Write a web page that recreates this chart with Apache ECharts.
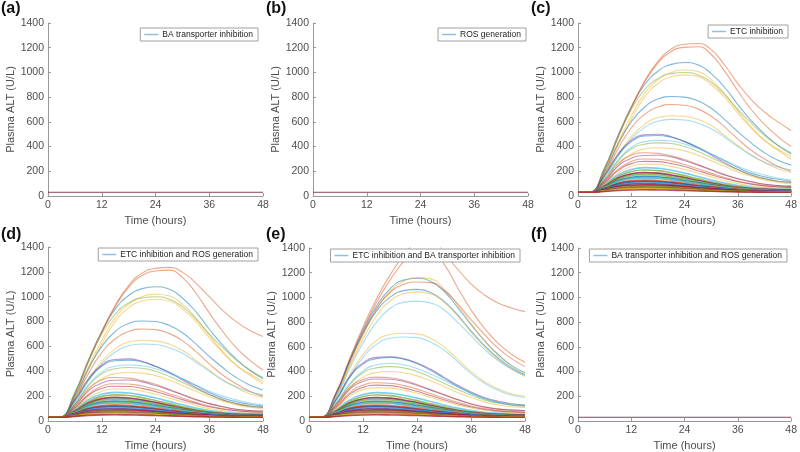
<!DOCTYPE html>
<html><head><meta charset="utf-8">
<script src="https://cdn.jsdelivr.net/npm/echarts@6/dist/echarts.min.js"></script>
<style>html,body{margin:0;padding:0;background:#fff}#c{width:800px;height:452px}</style>
</head><body><div id="c"></div>
<script>
// ---- DATA ----
const hours = [0,2.5,6,9,12,15,18,21,24,27,30,33,36,39,42,45,48];
const xTicks = [0,12,24,36,48];
const yTicks = [0,200,400,600,800,1000,1200,1400];
const panelLabels = ['a','b','c','d','e','f'];
const legendNames = ['BA transporter inhibition','ROS generation','ETC inhibition',
  'ETC inhibition and ROS generation','ETC inhibition and BA transporter inhibition',
  'BA transporter inhibition and ROS generation'];

// flat baseline response (panels a, b, f)
const flatALT = [30,30,30,30,30,30,30,30,30,30,30,30,30,30,30,30,30];

// panel (c) only: top two curves
const topC1 = [30,30,220,480,720,930,1090,1190,1228,1234,1185,1060,910,780,680,600,530];
const topC2 = [30,30,210,470,710,920,1075,1170,1203,1208,1145,1010,850,700,580,480,400];
// panel (d) only: top two curves
const topD1 = [30,30,220,480,720,930,1090,1190,1228,1236,1198,1110,1000,890,800,730,680];
const topD2 = [30,30,210,470,710,920,1075,1170,1207,1214,1155,1030,870,720,590,490,410];

// mid curves shared by (c) and (d)
const mid3  = [30,30,230,490,720,900,1010,1065,1080,1062,990,880,740,610,500,410,340];
const mid4  = [30,30,190,430,650,830,940,1000,1020,1008,940,830,690,560,450,370,300];
const mid5  = [30,30,225,480,700,860,950,990,1000,982,920,820,700,590,490,410,350];
const mid6  = [30,30,180,410,620,800,910,965,980,968,900,800,670,550,450,380,320];
const mid7  = [30,30,200,420,600,720,785,805,800,770,710,620,520,430,350,290,250];
const mid8  = [30,30,180,380,550,660,720,740,735,705,645,560,460,370,300,240,200];
const mid9  = [30,30,160,330,480,580,635,650,645,620,570,490,410,330,270,220,190];
const mid10 = [30,30,150,320,460,555,605,620,615,590,545,475,400,330,275,235,210];
const mid11 = [30,30,170,340,450,495,500,480,440,390,330,270,215,170,140,120,110];
const mid12 = [30,30,165,330,440,485,490,475,440,395,340,285,230,185,155,135,120];
const mid13 = [30,30,140,290,395,440,450,445,420,385,340,290,240,200,170,145,130];
const mid14 = [30,30,135,280,380,420,430,425,400,360,310,260,210,170,140,120,110];
const mid15 = [30,30,120,250,340,380,390,385,365,330,285,240,195,160,130,110,100];
const mid16 = [30,30,130,260,330,350,345,325,295,255,215,175,140,115,95,85,80];
const mid17 = [30,30,120,240,305,328,330,315,285,250,210,170,140,115,95,85,80];
const mid18 = [30,30,110,215,280,300,298,282,255,220,185,150,120,100,85,75,70];
const mid19 = [30,30,105,205,262,280,278,262,238,205,172,142,115,95,82,74,70];
const mid20 = [30,30,95,185,240,258,256,240,215,185,155,125,100,82,70,63,60];

// panel (e) large/mid curves
const e1  = [30,30,230,500,760,990,1180,1340,1450,1480,1360,1230,1110,1020,955,915,885];
const e2  = [30,30,220,490,740,960,1140,1290,1390,1380,1270,1080,900,750,630,540,475];
const e3  = [30,30,200,450,690,900,1050,1130,1160,1150,1070,940,790,650,530,440,380];
const e4  = [30,30,225,490,730,930,1070,1140,1155,1130,1050,920,780,650,540,450,390];
const e5  = [30,30,210,470,710,910,1040,1105,1125,1120,1060,950,820,700,590,505,440];
const e6  = [30,30,220,480,710,890,1000,1055,1065,1040,970,860,730,610,510,430,370];
const e7  = [30,30,195,440,660,850,970,1030,1045,1030,960,850,720,600,500,420,360];
const e8  = [30,30,190,420,630,800,910,960,970,955,900,800,690,580,490,420,370];
const e9  = [30,30,170,370,540,650,700,710,705,670,600,500,400,320,260,220,200];
const e10 = [30,30,160,350,515,620,670,680,675,640,575,480,385,305,250,210,190];
const e11 = [30,30,175,360,470,515,520,505,470,420,355,290,235,190,160,140,130];
const e12 = [30,30,170,350,460,505,515,500,465,410,345,280,225,180,150,130,120];
const e13 = [30,30,145,300,405,455,465,455,425,380,330,275,225,185,155,140,130];
const e14 = [30,30,140,290,390,430,440,430,400,355,305,255,210,170,145,130,125];
const e15 = [30,30,130,265,355,392,400,390,365,325,280,230,190,155,130,115,110];
const e16 = [30,30,135,270,335,355,350,330,295,255,215,175,140,115,98,90,85];
const e17 = [30,30,125,255,320,340,338,320,288,250,210,172,138,112,96,88,82];
const e18 = [30,30,115,230,290,310,306,288,258,222,186,152,122,100,86,78,72];
const e19 = [30,30,108,215,272,290,286,268,240,206,172,140,113,93,80,72,68];
const e20 = [30,30,100,200,254,270,266,250,224,192,160,130,105,87,75,68,64];

// small, dense curves shared by (c), (d), (e)
const s1  = [30,30,90,170,215,230,225,208,185,158,130,105,85,70,62,57,55];
const s2  = [30,30,85,155,198,210,205,188,165,140,115,92,75,63,56,52,50];
const s15 = [30,30,78,140,175,185,181,166,146,124,102,83,69,59,53,50,48];
const s3  = [30,30,80,145,180,190,185,170,150,127,105,85,70,60,54,51,50];
const s4  = [30,30,75,135,166,175,170,156,138,117,97,80,66,56,50,47,45];
const s5  = [30,30,70,125,152,160,156,143,126,108,90,75,63,54,49,46,45];
const s16 = [30,30,68,118,143,150,146,134,118,101,85,71,60,52,47,44,42];
const s6  = [30,30,66,114,139,145,141,130,115,99,83,70,59,51,46,42,40];
const s7  = [30,30,62,104,125,130,126,116,103,89,76,64,55,48,44,41,40];
const s17 = [30,30,60,98,116,120,117,108,96,83,71,61,53,47,43,40,38];
const s8  = [30,30,58,94,111,115,112,103,92,80,69,59,51,45,41,39,38];
const s18 = [30,30,55,87,101,105,102,95,85,74,64,56,49,44,40,38,36];
const s9  = [30,30,54,84,97,100,97,90,81,71,62,54,47,42,39,37,35];
const s10 = [30,30,50,76,87,90,88,82,74,65,57,50,44,40,37,36,35];
const s19 = [30,30,48,72,82,85,83,78,70,62,54,48,43,39,36,35,34];
const s11 = [30,30,47,69,78,80,78,73,66,58,51,45,41,37,35,34,33];
const s12 = [30,30,44,61,68,70,68,64,58,52,46,42,38,35,33,32,32];
const s20 = [30,30,42,57,63,65,63,60,55,49,44,40,37,34,32,31,31];
const s13 = [30,30,40,53,58,60,58,55,51,46,42,38,35,33,32,31,31];
const s14 = [30,30,37,45,49,50,49,47,44,41,38,35,33,32,31,30,30];

// ---- STYLE ----
const B='#0072BD', O='#D95319', Y='#EDB120', P='#7E2F8E', G='#77AC30', L='#4DBEEE', R='#A2142F';

const midSet = [[mid3,B],[mid4,Y],[mid5,G],[mid6,Y],[mid7,B],[mid8,O],[mid9,Y],[mid10,L],
  [mid11,P],[mid12,B],[mid13,L],[mid14,G],[mid15,Y],[mid16,O],[mid17,P],[mid18,O],[mid19,R],[mid20,Y]];
const smallSet = [[s1,L],[s2,G],[s15,L],[s3,R],[s4,G],[s5,B],[s16,G],[s6,L],[s7,O],[s17,R],
  [s8,B],[s18,L],[s9,P],[s10,R],[s19,R],[s11,G],[s12,R],[s20,G],[s13,Y],[s14,R]];

const panels = [
  {flat:true},
  {flat:true},
  {legendIdx:0, curves:[[mid3,B],[topC1,O],[topC2,O]].concat(midSet.slice(1)).concat(smallSet)},
  {legendIdx:0, curves:[[mid3,B],[topD1,O],[topD2,O]].concat(midSet.slice(1)).concat(smallSet)},
  {legendIdx:0, curves:[[e4,B],[e1,O],[e2,O],[e3,Y],[e5,O],[e6,B],[e7,Y],[e8,L],[e9,Y],[e10,L],
     [e11,P],[e12,B],[e13,L],[e14,G],[e15,Y],[e16,O],[e17,P],[e18,O],[e19,R],[e20,Y]].concat(smallSet)},
  {flat:true}
];

const gridPos = [
  {left:48, top:23, width:215, height:173},
  {left:313, top:23, width:215, height:173},
  {left:578, top:23, width:215, height:173},
  {left:48, top:247, width:215, height:174},
  {left:309, top:248, width:216, height:174},
  {left:578, top:248, width:214, height:174}
];
const legendPos = [
  {right:542, top:28},{right:274, top:28},{right:12, top:25},
  {right:542, top:248},{right:280, top:249},{right:13, top:249}
];
const labelPos = [[1,1],[266,1],[531,1],[1,227],[266,227],[531,227]];

const txt = '#4d4d4d';
const FONT = 'Liberation Sans, Arial, sans-serif';

const grid=[], xAxis=[], yAxis=[], series=[], legend=[], title=[];
panels.forEach((p,i)=>{
  grid.push(Object.assign({containLabel:false}, gridPos[i]));
  xAxis.push({type:'value', gridIndex:i, min:0, max:48, interval:12,
    name:'Time (hours)', nameLocation:'middle', nameGap:19,
    nameTextStyle:{color:txt, fontSize:11, fontFamily:FONT},
    axisLine:{show:true, onZero:false, lineStyle:{color:'#9a9a9a', width:1}},
    axisTick:{show:true, inside:true, length:3, lineStyle:{color:'#9a9a9a'}},
    axisLabel:{color:txt, fontSize:10.5, fontFamily:FONT, margin:4,
      formatter:v=>xTicks.includes(v)?String(v):''},
    splitLine:{show:false}});
  yAxis.push({type:'value', gridIndex:i, min:0, max:1400, interval:200,
    name:'Plasma ALT (U/L)', nameLocation:'middle', nameGap:27,
    nameTextStyle:{color:txt, fontSize:11, fontFamily:FONT},
    axisLine:{show:true, onZero:false, lineStyle:{color:'#9a9a9a', width:1}},
    axisTick:{show:true, inside:true, length:3, lineStyle:{color:'#9a9a9a'}},
    axisLabel:{color:txt, fontSize:10.5, fontFamily:FONT, margin:4,
      formatter:v=>yTicks.includes(v)?String(v):''},
    splitLine:{show:false}});
  title.push({text:'{p|(}{b|'+panelLabels[i]+'}{p|)}', left:labelPos[i][0], top:labelPos[i][1],
    padding:0, textStyle:{rich:{p:{fontSize:16, color:'#111', fontFamily:FONT},
      b:{fontSize:16, fontWeight:'bold', color:'#111', fontFamily:FONT}}}});
  legend.push(Object.assign({
    data:[{name:legendNames[i], itemStyle:{color:'#8cc0e6'}}],
    icon:'rect', itemWidth:14, itemHeight:1.5, itemGap:4,
    backgroundColor:'#fff', borderColor:'#a0a0a0', borderWidth:1,
    padding:[2,5,2,4], z:10,
    textStyle:{color:'#222', fontSize:8.5, fontFamily:FONT, padding:[0,0,0,-1]}
  }, legendPos[i]));
  const mk = (arr,color,name,op,w)=>({
    type:'line', xAxisIndex:i, yAxisIndex:i, name:name,
    data:hours.map((h,k)=>[h,arr[k]]),
    showSymbol:false, smooth:0.5, silent:true, animation:false,
    lineStyle:{color:color, width:w, opacity:op}, itemStyle:{color:color}, clip:true, z:2
  });
  if (p.flat) {
    series.push(mk(flatALT, B, legendNames[i], 0.3, 1.2));
    series.push(mk(flatALT, R, 'flatRed'+i, 0.55, 1.2));
  } else {
    p.curves.forEach((c,k)=>{
      const small = Math.max.apply(null,c[0]) < 240;
      series.push(mk(c[0], c[1], k===p.legendIdx?legendNames[i]:'c'+i+'_'+k,
        small?0.75:0.5, small?1.6:1.1));
    });
  }
});

const chart = echarts.init(document.getElementById('c'), null, {renderer:'canvas'});
chart.setOption({backgroundColor:'#fff', animation:false, title, grid, xAxis, yAxis, legend, series});
</script>
</body></html>
